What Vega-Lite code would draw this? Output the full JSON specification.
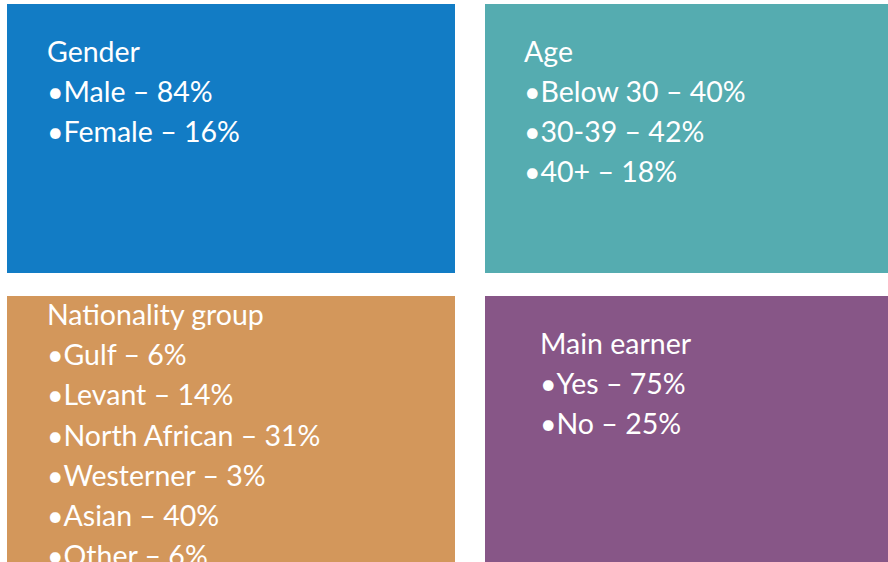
{
  "$schema": "https://vega.github.io/schema/vega-lite/v6.json",
  "padding": {"left": 7, "top": 4, "right": 0, "bottom": 0},
  "background": "white",
  "config": {"view": {"stroke": null}, "concat": {"spacing": 30}},
  "datasets": {
    "gender": [
      {"line": 0, "label": "Gender"},
      {"line": 1, "label": "•Male – 84%"},
      {"line": 2, "label": "•Female – 16%"}
    ],
    "age": [
      {"line": 0, "label": "Age"},
      {"line": 1, "label": "•Below 30 – 40%"},
      {"line": 2, "label": "•30-39 – 42%"},
      {"line": 3, "label": "•40+ – 18%"}
    ],
    "nationality": [
      {"line": 0, "label": "Nationality group"},
      {"line": 1, "label": "•Gulf – 6%"},
      {"line": 2, "label": "•Levant – 14%"},
      {"line": 3, "label": "•North African – 31%"},
      {"line": 4, "label": "•Westerner – 3%"},
      {"line": 5, "label": "•Asian – 40%"},
      {"line": 6, "label": "•Other – 6%"}
    ],
    "earner": [
      {"line": 0, "label": "Main earner"},
      {"line": 1, "label": "•Yes – 75%"},
      {"line": 2, "label": "•No – 25%"}
    ]
  },
  "vconcat": [
    {
      "hconcat": [
        {
          "width": 448, "height": 269,
          "view": {"fill": "#127CC5", "stroke": null},
          "data": {"name": "gender"},
          "mark": {"type": "text", "x": 40, "align": "left", "baseline": "alphabetic", "font": "Lato", "fontSize": 28.5, "color": "white"},
          "encoding": {
            "y": {"field": "line", "type": "quantitative", "axis": null, "scale": {"domain": [0, 2], "range": [58, 138]}},
            "text": {"field": "label"}
          }
        },
        {
          "width": 403, "height": 269,
          "view": {"fill": "#55ACB0", "stroke": null},
          "data": {"name": "age"},
          "mark": {"type": "text", "x": 39, "align": "left", "baseline": "alphabetic", "font": "Lato", "fontSize": 28.5, "color": "white"},
          "encoding": {
            "y": {"field": "line", "type": "quantitative", "axis": null, "scale": {"domain": [0, 3], "range": [58, 178]}},
            "text": {"field": "label"}
          }
        }
      ]
    },
    {
      "hconcat": [
        {
          "width": 448, "height": 266,
          "view": {"fill": "#D3975B", "stroke": null},
          "data": {"name": "nationality"},
          "mark": {"type": "text", "x": 40, "align": "left", "baseline": "alphabetic", "font": "Lato", "fontSize": 28.5, "color": "white"},
          "encoding": {
            "y": {"field": "line", "type": "quantitative", "axis": null, "scale": {"domain": [0, 6], "range": [29, 270]}},
            "text": {"field": "label"}
          }
        },
        {
          "width": 403, "height": 266,
          "view": {"fill": "#875687", "stroke": null},
          "data": {"name": "earner"},
          "mark": {"type": "text", "x": 55, "align": "left", "baseline": "alphabetic", "font": "Lato", "fontSize": 28.5, "color": "white"},
          "encoding": {
            "y": {"field": "line", "type": "quantitative", "axis": null, "scale": {"domain": [0, 2], "range": [58, 138]}},
            "text": {"field": "label"}
          }
        }
      ]
    }
  ],
  "spacing": 23
}
